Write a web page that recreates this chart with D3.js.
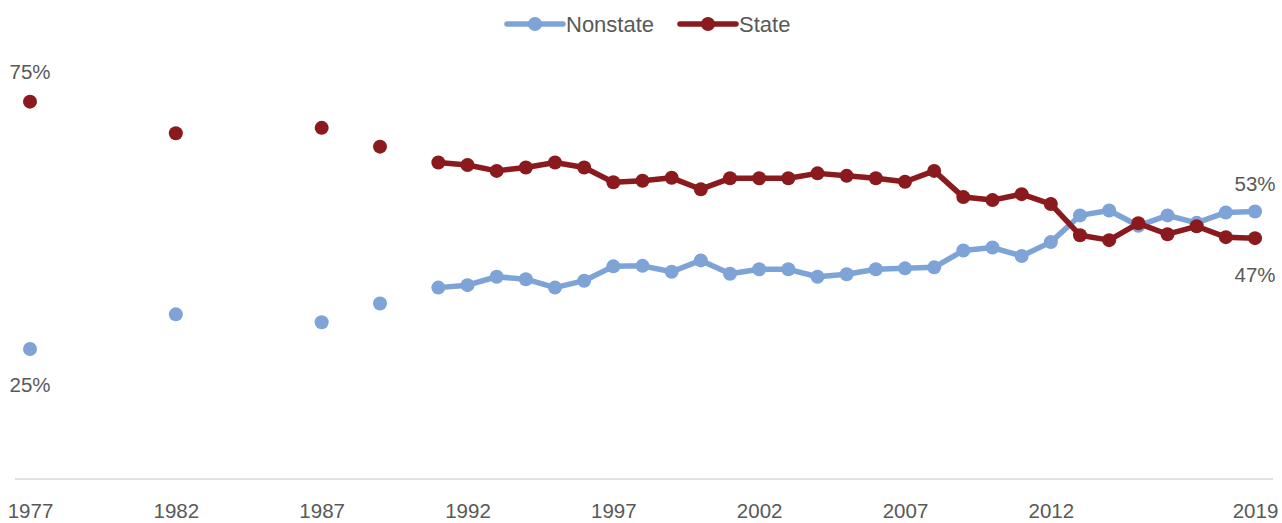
<!DOCTYPE html>
<html>
<head>
<script src="https://cdnjs.cloudflare.com/ajax/libs/d3/7.8.5/d3.min.js"></script>
<style>
  body { margin: 0; background: #fff; }
  text { font-family: "Liberation Sans", Arial, sans-serif; fill: #595959; }
</style>
</head>
<body>
<div id="vis"></div>
<script>
var w = 1282, h = 523;

var years = [1977, 1982, 1987, 1989,
  1991, 1992, 1993, 1994, 1995, 1996, 1997, 1998, 1999, 2000,
  2001, 2002, 2003, 2004, 2005, 2006, 2007, 2008, 2009, 2010,
  2011, 2012, 2013, 2014, 2015, 2016, 2017, 2018, 2019];
var nonstate = [25, 32.0, 30.4, 34.2,
  37.4, 37.9, 39.6, 39.1, 37.4, 38.8, 41.7, 41.8, 40.6, 42.9,
  40.2, 41.1, 41.1, 39.6, 40.1, 41.1, 41.3, 41.5, 44.9, 45.5,
  43.8, 46.6, 52.0, 53.0, 49.9, 52.0, 50.5, 52.6, 52.8];
var state = [75, 68.6, 69.7, 65.9,
  62.7, 62.2, 61.0, 61.7, 62.7, 61.7, 58.7, 59.0, 59.6, 57.3,
  59.5, 59.5, 59.5, 60.5, 60.0, 59.5, 58.8, 61.0, 55.7, 55.1,
  56.3, 54.3, 48.0, 47.0, 50.4, 48.2, 49.8, 47.6, 47.4];
var tickYears = [1977, 1982, 1987, 1992, 1997, 2002, 2007, 2012, 2019];

var series = [
  {name: "Nonstate", values: nonstate, color: "#7da3d7"},
  {name: "State", values: state, color: "#8b1a1f"}
];

var svg = d3.select("#vis").append("svg")
  .attr("width", w).attr("height", h)
  .attr("viewBox", [0, 0, w, h]);

var x = d3.scaleLinear().domain([1977, 2019]).range([30, 1255]);
var y = d3.scaleLinear().domain([0, 100]).range([472.6, -22]);

// baseline + year labels
svg.append("line")
  .attr("x1", 15).attr("x2", 1273)
  .attr("y1", 479).attr("y2", 479)
  .attr("stroke", "#d9d9d9").attr("stroke-width", 1.5);

var xAxis = svg.append("g")
  .attr("transform", "translate(0,479)")
  .call(d3.axisBottom(x).tickValues(tickYears).tickFormat(d3.format("d")).tickSize(0).tickPadding(24));
xAxis.select(".domain").remove();
xAxis.selectAll("text")
  .style("font-size", "20.5px")
  .attr("fill", "#595959");

// split a series into runs of consecutive years
function runs(vals) {
  var out = [], cur = [];
  years.forEach(function(yr, i) {
    if (cur.length && yr - cur[cur.length - 1].year > 1) { out.push(cur); cur = []; }
    cur.push({year: yr, v: vals[i]});
  });
  out.push(cur);
  return out.filter(function(r) { return r.length > 1; });
}

var line = d3.line().x(function(d) { return x(d.year); }).y(function(d) { return y(d.v); });

series.forEach(function(s) {
  var g = svg.append("g");
  g.selectAll("path")
    .data(runs(s.values))
    .join("path")
    .attr("d", line)
    .attr("fill", "none")
    .attr("stroke", s.color)
    .attr("stroke-width", 5.5)
    .attr("stroke-linejoin", "round");
  g.selectAll("circle")
    .data(years.map(function(yr, i) { return {year: yr, v: s.values[i]}; }))
    .join("circle")
    .attr("cx", function(d) { return x(d.year); })
    .attr("cy", function(d) { return y(d.v); })
    .attr("r", 7)
    .attr("fill", s.color);
});

// end labels
var last = years.length - 1;
var labels = [
  {year: years[0], v: state[0], dy: -30},
  {year: years[0], v: nonstate[0], dy: 36},
  {year: years[last], v: nonstate[last], dy: -28},
  {year: years[last], v: state[last], dy: 36}
];
svg.append("g").selectAll("text")
  .data(labels)
  .join("text")
  .attr("x", function(d) { return x(d.year); })
  .attr("y", function(d) { return y(d.v) + d.dy; })
  .attr("text-anchor", "middle")
  .attr("dominant-baseline", "central")
  .style("font-size", "20.5px")
  .text(function(d) { return Math.round(d.v) + "%"; });

// legend
var legX = [507, 680];
var leg = svg.append("g").selectAll("g")
  .data(series)
  .join("g")
  .attr("transform", function(d, i) { return "translate(" + legX[i] + ",24)"; });
leg.append("line")
  .attr("x1", 0).attr("x2", 56)
  .attr("stroke", function(d) { return d.color; })
  .attr("stroke-width", 5.5)
  .attr("stroke-linecap", "round");
leg.append("circle")
  .attr("cx", 28).attr("r", 7)
  .attr("fill", function(d) { return d.color; });
leg.append("text")
  .attr("x", 59)
  .attr("dominant-baseline", "central")
  .style("font-size", "22px")
  .text(function(d) { return d.name; });
</script>
</body>
</html>
